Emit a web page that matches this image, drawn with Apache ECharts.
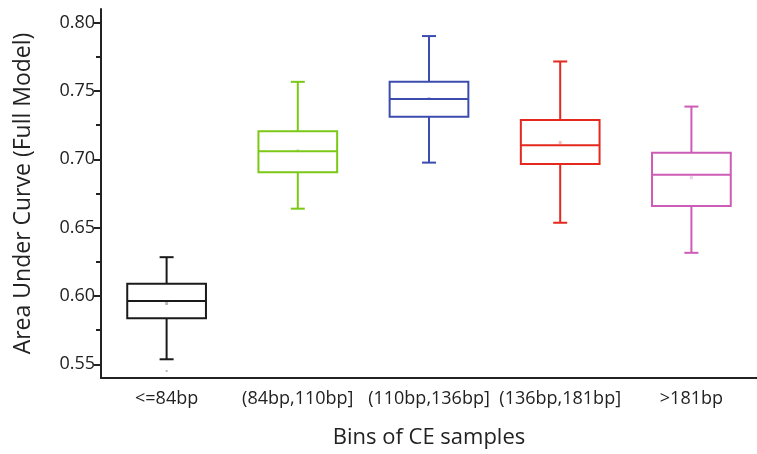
<!DOCTYPE html>
<html>
<head>
<meta charset="utf-8">
<script src="https://cdn.jsdelivr.net/npm/echarts@6/dist/echarts.min.js"></script>
<style>html,body{margin:0;padding:0;background:#fff}#c{width:757px;height:454px}</style>
</head>
<body>
<div id="c"></div>
<script>
var categories = ['<=84bp', '(84bp,110bp]', '(110bp,136bp]', '(136bp,181bp]', '>181bp'];
var whiskerLow = [0.5537, 0.6639, 0.6976, 0.6536, 0.6316];
var q1 = [0.5837, 0.6905, 0.7311, 0.6966, 0.6658];
var median = [0.5964, 0.7059, 0.7441, 0.7103, 0.6888];
var q3 = [0.6089, 0.7206, 0.7567, 0.7287, 0.7049];
var whiskerHigh = [0.6284, 0.7567, 0.7902, 0.7716, 0.7386];
var means = [0.5945, 0.7064, 0.7445, 0.7123, 0.6866];
var outliers = [[0, 0.5451]];
var yLabelValues = [0.55, 0.60, 0.65, 0.70, 0.75, 0.80];
var yMinorValues = [0.575, 0.625, 0.675, 0.725, 0.775];
var palette = ['#1a1a1a', '#7cc816', '#3c4cae', '#e5281e', '#cc5cb6'];

var boxData = categories.map(function (c, i) {
  return [i, whiskerLow[i], q1[i], median[i], q3[i], whiskerHigh[i]];
});

function renderBox(params, api) {
  var i = api.value(0);
  var pLow = api.coord([i, api.value(1)]);
  var pQ1 = api.coord([i, api.value(2)]);
  var pMed = api.coord([i, api.value(3)]);
  var pQ3 = api.coord([i, api.value(4)]);
  var pHigh = api.coord([i, api.value(5)]);
  var bw = api.size([1, 0])[0] * 0.6;
  var cap = 14;
  var x = pMed[0];
  var col = palette[i];
  var st = { stroke: col, lineWidth: 2, fill: null };
  return {
    type: 'group',
    children: [
      { type: 'rect', shape: { x: x - bw / 2, y: pQ3[1], width: bw, height: pQ1[1] - pQ3[1] }, style: { stroke: col, lineWidth: 2, fill: 'none' } },
      { type: 'line', shape: { x1: x - bw / 2, y1: pMed[1], x2: x + bw / 2, y2: pMed[1] }, style: st },
      { type: 'line', shape: { x1: x, y1: pQ3[1], x2: x, y2: pHigh[1] }, style: st },
      { type: 'line', shape: { x1: x, y1: pQ1[1], x2: x, y2: pLow[1] }, style: st },
      { type: 'line', shape: { x1: x - cap / 2, y1: pHigh[1], x2: x + cap / 2, y2: pHigh[1] }, style: st },
      { type: 'line', shape: { x1: x - cap / 2, y1: pLow[1], x2: x + cap / 2, y2: pLow[1] }, style: st }
    ]
  };
}

var chart = echarts.init(document.getElementById('c'), null, { renderer: 'canvas' });
var txt = '#222';
chart.setOption({
  animation: false,
  backgroundColor: '#fff',
  grid: { left: 101, top: 9, bottom: 76, right: -12, containLabel: false },
  xAxis: {
    type: 'category',
    data: categories,
    boundaryGap: true,
    name: 'Bins of CE samples',
    nameLocation: 'middle',
    nameGap: 49,
    nameTextStyle: { fontFamily: 'Open Sans', fontSize: 22, color: txt },
    axisLine: { lineStyle: { color: '#222', width: 2 } },
    axisTick: { alignWithLabel: true, length: 7, lineStyle: { color: '#222', width: 2 } },
    axisLabel: { fontFamily: 'Open Sans', fontSize: 18, color: txt, margin: 12, interval: 0 },
    splitLine: { show: false }
  },
  yAxis: [{
    type: 'value',
    min: 0.54,
    max: 0.81,
    name: 'Area Under Curve (Full Model)',
    nameLocation: 'middle',
    nameRotate: 90,
    nameGap: 66,
    nameTextStyle: { fontFamily: 'Open Sans', fontSize: 23, color: txt },
    axisLine: { show: true, lineStyle: { color: '#222', width: 2 } },
    axisTick: { show: true, length: 7, customValues: yLabelValues, lineStyle: { color: '#222', width: 2 } },
    axisLabel: { fontFamily: 'Open Sans', fontSize: 18, color: txt, margin: 6, customValues: yLabelValues,
      formatter: function (v) { return v.toFixed(2); } },
    splitLine: { show: false }
  }, {
    type: 'value',
    min: 0.54,
    max: 0.81,
    position: 'left',
    axisLine: { show: false },
    axisTick: { show: true, length: 5, customValues: yMinorValues, lineStyle: { color: '#222', width: 2 } },
    axisLabel: { show: false },
    splitLine: { show: false }
  }],
  series: [{
    type: 'custom',
    renderItem: renderBox,
    data: boxData,
    encode: { x: 0, y: [1, 2, 3, 4, 5] },
    z: 2
  }, {
    type: 'scatter',
    data: means.map(function (m, i) { return [i, m]; }),
    symbol: 'rect',
    symbolSize: 3,
    itemStyle: { color: function (p) { return palette[p.dataIndex]; }, opacity: 0.3 },
    z: 3
  }, {
    type: 'scatter',
    data: outliers,
    symbol: 'rect',
    symbolSize: 2,
    itemStyle: { color: '#888', opacity: 0.6 },
    z: 3
  }]
});
</script>
</body>
</html>
